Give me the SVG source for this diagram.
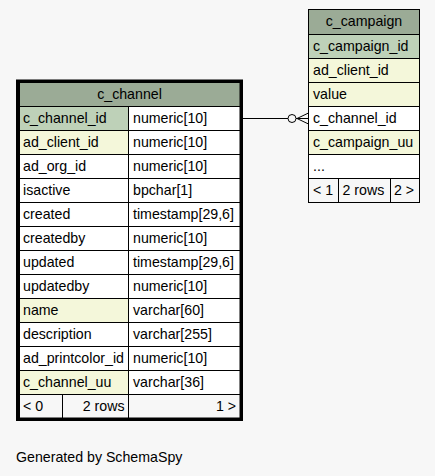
<svg xmlns="http://www.w3.org/2000/svg" width="435" height="476" viewBox="0 0 435 476">
<style>
  text { font-family: "Liberation Sans", Arial, sans-serif; font-size: 14.2px; fill: #000; }
  .c { stroke: #000; stroke-width: 1; }
  .hd { fill: #9bab96; }
  .pk { fill: #bed1b8; }
  .ix { fill: #f4f7da; }
  .w { fill: #ffffff; }
  .ft { fill: #f7f7f7; }
  .mid { text-anchor: middle; }
  .end { text-anchor: end; }
  .edge { stroke: #000; stroke-width: 1; fill: none; }
</style>
<rect x="0" y="0" width="435" height="476" fill="#f7f7f7"/>

<g id="c_channel">
  <rect x="17.5" y="81" width="224" height="338.5" fill="#ffffff" stroke="#000" stroke-width="3"/>
  <rect class="c hd" x="19.5" y="82.5" width="220.5" height="24"/>
  <text class="mid" x="129.5" y="98.5">c_channel</text>

  <rect class="c pk" x="19.5" y="106.5" width="109" height="24"/>
  <rect class="c w" x="128.5" y="106.5" width="111.5" height="24"/>
  <text x="23" y="122.5">c_channel_id</text><text x="133" y="122.5">numeric[10]</text>

  <rect class="c ix" x="19.5" y="130.5" width="109" height="24"/>
  <rect class="c w" x="128.5" y="130.5" width="111.5" height="24"/>
  <text x="23" y="146.5">ad_client_id</text><text x="133" y="146.5">numeric[10]</text>

  <rect class="c w" x="19.5" y="154.5" width="109" height="24"/>
  <rect class="c w" x="128.5" y="154.5" width="111.5" height="24"/>
  <text x="23" y="170.5">ad_org_id</text><text x="133" y="170.5">numeric[10]</text>

  <rect class="c w" x="19.5" y="178.5" width="109" height="24"/>
  <rect class="c w" x="128.5" y="178.5" width="111.5" height="24"/>
  <text x="23" y="194.5">isactive</text><text x="133" y="194.5">bpchar[1]</text>

  <rect class="c w" x="19.5" y="202.5" width="109" height="24"/>
  <rect class="c w" x="128.5" y="202.5" width="111.5" height="24"/>
  <text x="23" y="218.5">created</text><text x="133" y="218.5">timestamp[29,6]</text>

  <rect class="c w" x="19.5" y="226.5" width="109" height="24"/>
  <rect class="c w" x="128.5" y="226.5" width="111.5" height="24"/>
  <text x="23" y="242.5">createdby</text><text x="133" y="242.5">numeric[10]</text>

  <rect class="c w" x="19.5" y="250.5" width="109" height="24"/>
  <rect class="c w" x="128.5" y="250.5" width="111.5" height="24"/>
  <text x="23" y="266.5">updated</text><text x="133" y="266.5">timestamp[29,6]</text>

  <rect class="c w" x="19.5" y="274.5" width="109" height="24"/>
  <rect class="c w" x="128.5" y="274.5" width="111.5" height="24"/>
  <text x="23" y="290.5">updatedby</text><text x="133" y="290.5">numeric[10]</text>

  <rect class="c ix" x="19.5" y="298.5" width="109" height="24"/>
  <rect class="c w" x="128.5" y="298.5" width="111.5" height="24"/>
  <text x="23" y="314.5">name</text><text x="133" y="314.5">varchar[60]</text>

  <rect class="c w" x="19.5" y="322.5" width="109" height="24"/>
  <rect class="c w" x="128.5" y="322.5" width="111.5" height="24"/>
  <text x="23" y="338.5">description</text><text x="133" y="338.5">varchar[255]</text>

  <rect class="c w" x="19.5" y="346.5" width="109" height="24"/>
  <rect class="c w" x="128.5" y="346.5" width="111.5" height="24"/>
  <text x="23" y="362.5">ad_printcolor_id</text><text x="133" y="362.5">numeric[10]</text>

  <rect class="c ix" x="19.5" y="370.5" width="109" height="24"/>
  <rect class="c w" x="128.5" y="370.5" width="111.5" height="24"/>
  <text x="23" y="386.5">c_channel_uu</text><text x="133" y="386.5">varchar[36]</text>

  <rect class="c ft" x="19.5" y="394.5" width="43" height="23.5"/>
  <rect class="c ft" x="62.5" y="394.5" width="66" height="23.5"/>
  <rect class="c ft" x="128.5" y="394.5" width="111.5" height="23.5"/>
  <text x="23" y="410.5">&lt; 0</text>
  <text class="end" x="124.5" y="410.5">2 rows</text>
  <text class="end" x="236" y="410.5">1 &gt;</text>
</g>

<g id="c_campaign">
  <rect class="c hd" x="308.5" y="9.5" width="111" height="25"/>
  <text class="mid" x="364" y="26">c_campaign</text>
  <rect class="c pk" x="308.5" y="34.5" width="111" height="24"/>
  <text x="313" y="50.5">c_campaign_id</text>
  <rect class="c ix" x="308.5" y="58.5" width="111" height="24"/>
  <text x="313" y="74.5">ad_client_id</text>
  <rect class="c ix" x="308.5" y="82.5" width="111" height="24"/>
  <text x="313" y="98.5">value</text>
  <rect class="c w" x="308.5" y="106.5" width="111" height="24"/>
  <text x="313" y="122.5">c_channel_id</text>
  <rect class="c ix" x="308.5" y="130.5" width="111" height="24"/>
  <text x="313" y="146.5">c_campaign_uu</text>
  <rect class="c w" x="308.5" y="154.5" width="111" height="24"/>
  <text x="313" y="170.5">...</text>
  <rect class="c ft" x="308.5" y="178.5" width="30" height="24"/>
  <rect class="c ft" x="338.5" y="178.5" width="52" height="24"/>
  <rect class="c ft" x="390.5" y="178.5" width="29" height="24"/>
  <text x="313" y="194.5">&lt; 1</text>
  <text x="342.5" y="194.5">2 rows</text>
  <text x="394" y="194.5">2 &gt;</text>
</g>

<g id="connectors">
  <g id="c_campaign-c_channel">
    <line class="edge" x1="243" y1="118.5" x2="288" y2="118.5"/>
    <circle class="edge" cx="292" cy="118.5" r="4"/>
    <line class="edge" x1="296" y1="118.5" x2="308.5" y2="118.5"/>
    <line class="edge" x1="297" y1="118.5" x2="308.5" y2="113" stroke-width="1.5"/>
    <line class="edge" x1="297" y1="118.5" x2="308.5" y2="124" stroke-width="1.5"/>
  </g>
</g>

<text x="16" y="461.5">Generated by SchemaSpy</text>
</svg>
